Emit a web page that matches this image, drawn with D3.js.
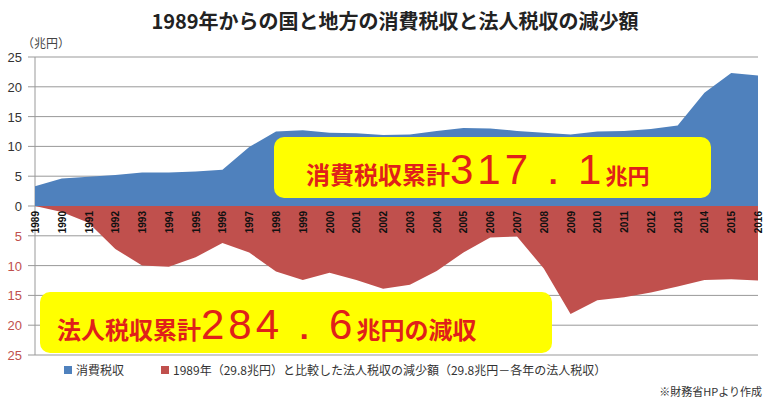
<!DOCTYPE html>
<html>
<head>
<meta charset="utf-8">
<script src="https://cdn.jsdelivr.net/npm/d3@7"></script>
<style>
body { margin: 0; background: #fff; font-family: "Noto Sans CJK JP", sans-serif; }
</style>
</head>
<body>
<div id="chart"></div>
<script>
var years = d3.range(1989, 2017);
var consumption = [3.3, 4.6, 4.9, 5.2, 5.6, 5.6, 5.8, 6.1, 9.9, 12.5, 12.7, 12.3, 12.2, 11.9,
  12.0, 12.6, 13.1, 13.0, 12.6, 12.3, 12.0, 12.5, 12.6, 12.9, 13.5, 19.0, 22.3, 21.9];
var corpDecrease = [0, 1.0, 2.8, 7.2, 10.0, 10.2, 8.6, 6.2, 7.8, 11.0, 12.4, 11.2, 12.4, 13.9,
  13.2, 10.9, 7.8, 5.3, 5.1, 10.5, 18.1, 15.8, 15.3, 14.5, 13.5, 12.4, 12.3, 12.5];
var yTicks = [25, 20, 15, 10, 5, 0, -5, -10, -15, -20, -25];

var svg = d3.select("#chart").append("svg")
  .attr("width", 773).attr("height", 405);

var x = d3.scalePoint().domain(years).range([35, 758]);
var y = d3.scaleLinear().domain([-25, 25]).range([355, 57]);

// title
svg.append("text").attr("x", 395).attr("y", 29).attr("text-anchor", "middle")
  .attr("font-size", 20).attr("font-weight", "bold").attr("fill", "#222")
  .text("1989年からの国と地方の消費税収と法人税収の減少額");
svg.append("text").attr("x", 22).attr("y", 48).attr("font-size", 12).attr("fill", "#444")
  .text("（兆円）");

// grid
svg.selectAll("line.grid").data(yTicks).enter().append("line")
  .attr("x1", 28).attr("x2", 758)
  .attr("y1", d => y(d)).attr("y2", d => y(d))
  .attr("stroke", "#999").attr("stroke-width", 1);
svg.append("line").attr("x1", 35).attr("x2", 35).attr("y1", y(25)).attr("y2", y(-25))
  .attr("stroke", "#999");
svg.selectAll("text.ytick").data(yTicks).enter().append("text")
  .attr("x", 22).attr("y", d => y(d) + 5).attr("text-anchor", "end")
  .attr("font-size", 13).attr("font-family", "Liberation Sans, sans-serif")
  .attr("fill", d => d < 0 ? "#c0504d" : "#333")
  .text(d => Math.abs(d));

// areas
var area = d3.area().x((d, i) => x(years[i])).y0(y(0));
svg.append("path").datum(consumption)
  .attr("d", area.y1(d => y(d))).attr("fill", "#4f81bd");
svg.append("path").datum(corpDecrease)
  .attr("d", area.y1(d => y(-d))).attr("fill", "#c0504d");

// year labels (read bottom to top)
svg.selectAll("text.year").data(years).enter().append("text")
  .attr("transform", d => `translate(${x(d) + 4},${y(0) + 5}) rotate(-90)`)
  .attr("text-anchor", "end")
  .attr("font-size", 10).attr("font-weight", "bold")
  .attr("font-family", "Liberation Sans, sans-serif").attr("fill", "#111")
  .text(d => d);

// callout boxes
svg.append("rect").attr("x", 274).attr("y", 137).attr("width", 437).attr("height", 61)
  .attr("rx", 10).attr("fill", "#ffff00");
svg.append("text").attr("x", 306).attr("y", 184).attr("fill", "#e0201a")
  .attr("font-weight", "bold")
  .html('<tspan font-size="24">消費税収累計</tspan><tspan font-size="42" font-family="Liberation Sans, sans-serif" font-weight="normal" letter-spacing="4">317．1</tspan><tspan font-size="22">兆円</tspan>');

svg.append("rect").attr("x", 40).attr("y", 292).attr("width", 512).attr("height", 61)
  .attr("rx", 10).attr("fill", "#ffff00");
svg.append("text").attr("x", 57).attr("y", 339).attr("fill", "#e0201a")
  .attr("font-weight", "bold")
  .html('<tspan font-size="24">法人税収累計</tspan><tspan font-size="42" font-family="Liberation Sans, sans-serif" font-weight="normal" letter-spacing="4">284．6</tspan><tspan font-size="24">兆円の減収</tspan>');

// legend
svg.append("rect").attr("x", 64).attr("y", 366).attr("width", 8).attr("height", 8).attr("fill", "#4f81bd");
svg.append("text").attr("x", 76).attr("y", 375).attr("font-size", 12).attr("fill", "#333").text("消費税収");
svg.append("rect").attr("x", 161).attr("y", 366).attr("width", 8).attr("height", 8).attr("fill", "#c0504d");
svg.append("text").attr("x", 173).attr("y", 375).attr("font-size", 12).attr("fill", "#333")
  .text("1989年（29.8兆円）と比較した法人税収の減少額（29.8兆円－各年の法人税収）");
svg.append("text").attr("x", 762).attr("y", 396).attr("text-anchor", "end")
  .attr("font-size", 11).attr("fill", "#333").text("※財務省HPより作成");
</script>
</body>
</html>
